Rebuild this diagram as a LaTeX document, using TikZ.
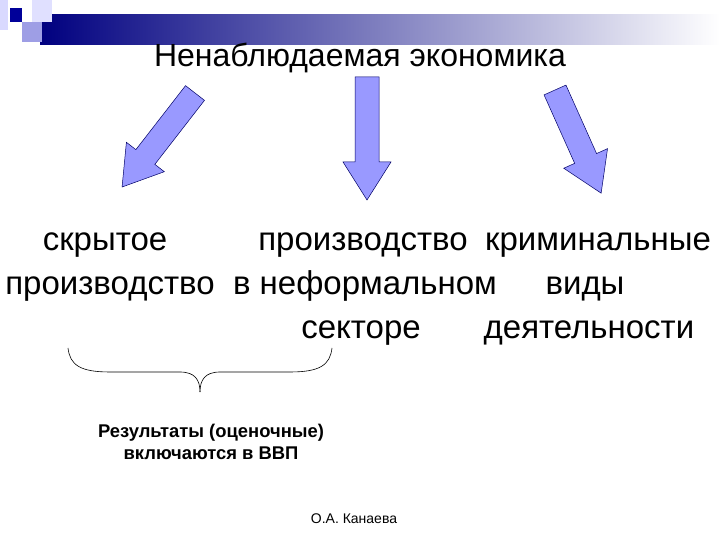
\documentclass[tikz,border=0pt]{standalone}
\usepackage{fontspec}
\setmainfont{Liberation Sans}
\begin{document}
\begin{tikzpicture}[x=1pt,y=1pt,
  big/.style={font=\fontsize{33}{35}\selectfont, inner sep=0pt, anchor=base},
  barr/.style={fill=blue!40!white, draw=blue!40!black, line width=0.5pt}]
\useasboundingbox (0,0) rectangle (720,540);
\fill[white] (0,0) rectangle (720,540);
% header
\shade[left color=blue!50!black, right color=white] (40,495) rectangle (720,525);
\fill[blue!15!white] (0,510) rectangle (8,540);
\fill[blue!12!white] (32,518) rectangle (52,540);
\fill[blue!35!white!80!gray] (22,498) rectangle (42,518);
\fill[blue!60!black] (10,518) rectangle (22,532);
\node[font=\fontsize{32}{34}\selectfont, inner sep=0pt] (title) at (360,482) {Ненаблюдаемая экономика};
% arrows
\newcommand{\blkarrow}[3]{%
\begin{scope}[shift={#1}, rotate=#2]
\draw[barr] (0,-12)--(#3-38,-12)--(#3-38,-24)--(#3,0)--(#3-38,24)--(#3-38,12)--(0,12)--cycle;
\end{scope}}
\blkarrow{(195,447)}{232.2}{119}
\blkarrow{(367,463)}{270}{123}
\blkarrow{(555,450)}{-65.9}{113}
% texts
\node[big] (a1) at (105,289) {скрытое};
\node[big] (a2) at (110,245) {производство};
\node[big] (b1) at (363,289) {производство};
\node[big] (b2) at (365,245) {в неформальном};
\node[big] (b3) at (361,201) {секторе};
\node[big] (c1) at (598,289) {криминальные};
\node[big] (c2) at (585,245) {виды};
\node[big] (c3) at (589,201) {деятельности};
% brace
\coordinate (bl) at (68,192);
\coordinate (br) at (332,192);
\coordinate (bt) at (200,148);
\draw[line width=0.6pt] (bl) .. controls (70,175) and (80,168) .. (110,168) -- (180,168)
  .. controls (195,168) and (200,160) .. (bt);
\draw[line width=0.6pt] (br) .. controls (330,175) and (320,168) .. (290,168) -- (220,168)
  .. controls (205,168) and (200,160) .. (bt);
\node[font=\fontsize{18.4}{22}\selectfont\bfseries, align=center, inner sep=0pt] (res) at (211,98) {Результаты (оценочные)\\включаются в ВВП};
\node[font=\fontsize{14}{15}\selectfont, inner sep=0pt] (auth) at (354,21) {О.А. Канаева};
\end{tikzpicture}
\end{document}
